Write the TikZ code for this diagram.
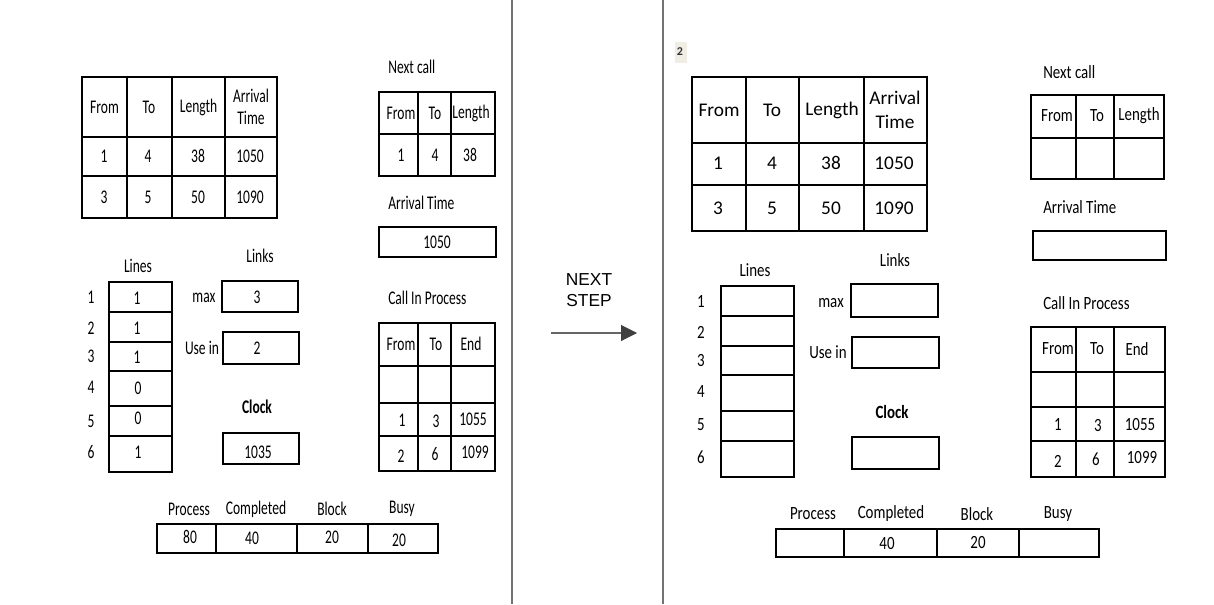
\documentclass[tikz,border=0pt]{standalone}
\usepackage{fontspec}
\setmainfont{Carlito}
\newfontfamily\lfont[FakeStretch=0.7]{Carlito}
\newfontfamily\rfont[FakeStretch=0.8]{Carlito}
\newfontfamily\arialfont{Liberation Sans}
\usetikzlibrary{arrows.meta}
\definecolor{beige}{RGB}{240,238,228}
\newcommand\mygrid[7]{%
  \draw[#1] (#2,#3) rectangle (#4,#5);
  \foreach \xx in {#6} {\draw[#1] (\xx,#3) -- (\xx,#5);}
  \foreach \yy in {#7} {\draw[#1] (#2,\yy) -- (#4,\yy);}
}
\begin{document}
\begin{tikzpicture}[x=0.75pt,y=-0.75pt,
  lt/.style={font=\lfont\fontsize{14.5}{17}\selectfont, inner sep=0pt, align=center},
  ltb/.style={font=\lfont\bfseries\fontsize{14.5}{17}\selectfont, inner sep=0pt, align=center},
  rt/.style={font=\fontsize{14.5}{18}\selectfont, inner sep=0pt, align=center},
  rs/.style={font=\rfont\fontsize{14}{17}\selectfont, inner sep=0pt, align=center},
  rsb/.style={font=\rfont\bfseries\fontsize{14}{17}\selectfont, inner sep=0pt, align=center},
  tb/.style={line width=1.8pt, line cap=rect},
  bx/.style={line width=1.3pt, line cap=rect},
  sep/.style={draw=black!55, line width=1.1pt},
  arr/.style={draw=black!60, line width=0.8pt, -{Triangle[length=12pt,width=12pt,fill=black!75,color=black!75]}}]
\useasboundingbox (0,0) rectangle (1214,604);
\fill[white] (0,0) rectangle (1214,604);

% separators
\draw[sep] (512,0) -- (512,604);
\draw[sep] (663,0) -- (663,604);

% middle
\node[font=\arialfont\fontsize{13}{16}\selectfont, align=center, inner sep=0pt] (nextstep) at (589,290) {NEXT\\STEP};
\coordinate (a1) at (551,333);
\coordinate (a2) at (637,333);
\draw[arr] (a1) -- (a2);

% ================= LEFT PANEL =================
\mygrid{tb}{82}{77}{277}{218}{127,172,225}{137,176}
\node[lt] (lh1) at (104.5,107) {From};
\node[lt] (lh2) at (149,107) {To};
\node[lt] (lh3) at (198.5,107) {Length};
\node[lt] (lh4) at (251,107) {Arrival\\Time};
\node[lt] (lr11) at (104,156) {1};
\node[lt] (lr12) at (148,156) {4};
\node[lt] (lr13) at (198,156) {38};
\node[lt] (lr14) at (250,156) {1050};
\node[lt] (lr21) at (104,197) {3};
\node[lt] (lr22) at (148,197) {5};
\node[lt] (lr23) at (198,197) {50};
\node[lt] (lr24) at (250,197) {1090};

% next call
\node[lt, anchor=west] (lnc) at (388,67) {Next call};
\mygrid{bx}{379}{92}{495}{176}{418,451}{134}
\node[lt] (lnc1) at (401,113) {From};
\node[lt] (lnc2) at (435,113) {To};
\node[lt] (lnc3) at (471,113) {Length};
\node[lt] (lnc4) at (401,155) {1};
\node[lt] (lnc5) at (435,155) {4};
\node[lt] (lnc6) at (470,155) {38};

% arrival time
\node[lt, anchor=west] (lat) at (388,203) {Arrival Time};
\draw[bx] (379,227) rectangle (496,257);
\node[lt] (latv) at (437,242) {1050};

% lines
\node[lt] (llines) at (138,266) {Lines};
\draw[bx] (109,282) rectangle (172,472);
\foreach \yy in {312,342,371,406,436} {\draw[bx] (109,\yy) -- (172,\yy);}
\node[lt] (ln1) at (91,297) {1};
\node[lt] (ln2) at (91,328) {2};
\node[lt] (ln3) at (91,356) {3};
\node[lt] (ln4) at (91,387) {4};
\node[lt] (ln5) at (91,421) {5};
\node[lt] (ln6) at (91,452) {6};
\node[lt] (lv1) at (137,298) {1};
\node[lt] (lv2) at (137,328) {1};
\node[lt] (lv3) at (137,357) {1};
\node[lt] (lv4) at (138,388) {0};
\node[lt] (lv5) at (138,418) {0};
\node[lt] (lv6) at (138,452) {1};

% links
\node[lt] (llinks) at (260,256) {Links};
\node[lt] (lmax) at (204,298) {max};
\draw[bx] (222,281) rectangle (298,312);
\node[lt] (lmaxv) at (257,297) {3};
\node[lt] (luse) at (202,348) {Use in};
\draw[bx] (223,332) rectangle (299,364);
\node[lt] (lusev) at (257,348) {2};
\node[ltb] (lclock) at (257,407) {Clock};
\draw[bx] (223,433) rectangle (299,464);
\node[lt] (lclockv) at (258,452) {1035};

% call in process
\node[lt, anchor=west] (lcip) at (388,298) {Call In Process};
\mygrid{bx}{379}{323}{495}{471}{418,451}{366,403,436}
\node[lt] (lc1) at (401,344) {From};
\node[lt] (lc2) at (436,344) {To};
\node[lt] (lc3) at (471,344) {End};
\node[lt] (lc4) at (402,420) {1};
\node[lt] (lc5) at (436,421) {3};
\node[lt] (lc6) at (473,419) {1055};
\node[lt] (lc7) at (401,456) {2};
\node[lt] (lc8) at (435,454) {6};
\node[lt] (lc9) at (475,452) {1099};

% bottom
\node[lt] (lb1) at (189,509) {Process};
\node[lt] (lb2) at (256,509) {Completed};
\node[lt] (lb3) at (332,509) {Block};
\node[lt] (lb4) at (402,509) {Busy};
\draw[bx] (157,524) rectangle (438,553);
\foreach \xx in {216,297,368} {\draw[bx] (\xx,524) -- (\xx,553);}
\node[lt] (lbv1) at (190,537) {80};
\node[lt] (lbv2) at (252,538) {40};
\node[lt] (lbv3) at (332,537) {20};
\node[lt] (lbv4) at (399,540) {20};

% ================= RIGHT PANEL =================
\fill[beige] (675,42) rectangle (687,63);
\node[font=\bfseries\fontsize{9}{10}\selectfont, text=black!80, inner sep=0pt] (rtwo) at (680,52) {2};

\mygrid{tb}{692}{77}{927}{231}{746,799,864}{143,185}
\node[rt] (rh1) at (719,110) {From};
\node[rt] (rh2) at (772,110) {To};
\node[rt] (rh3) at (832,110) {Length};
\node[rt] (rh4) at (895,110) {Arrival\\Time};
\node[rt] (rr11) at (718,163) {1};
\node[rt] (rr12) at (772,163) {4};
\node[rt] (rr13) at (831,163) {38};
\node[rt] (rr14) at (894,163) {1050};
\node[rt] (rr21) at (718,208) {3};
\node[rt] (rr22) at (772,208) {5};
\node[rt] (rr23) at (831,208) {50};
\node[rt] (rr24) at (894,208) {1090};

\node[rs, anchor=west] (rnc) at (1043,72) {Next call};
\mygrid{bx}{1031}{95}{1164}{179}{1076,1114}{138}
\node[rs] (rnc1) at (1057,116) {From};
\node[rs] (rnc2) at (1097,116) {To};
\node[rs] (rnc3) at (1139,116) {Length};

\node[rs, anchor=west] (rat) at (1043,207) {Arrival Time};
\draw[bx] (1033,231) rectangle (1166,260);

\node[rs] (rlines) at (755,270) {Lines};
\draw[bx] (721,286) rectangle (794,477);
\foreach \yy in {316,346,375,411,441} {\draw[bx] (721,\yy) -- (794,\yy);}
\node[rs] (rn1) at (701,301) {1};
\node[rs] (rn2) at (701,332) {2};
\node[rs] (rn3) at (701,360) {3};
\node[rs] (rn4) at (701,392) {4};
\node[rs] (rn5) at (701,425) {5};
\node[rs] (rn6) at (701,457) {6};

\node[rs] (rlinks) at (895,260) {Links};
\node[rs] (rmax) at (831,303) {max};
\draw[bx] (851,284) rectangle (938,317);
\node[rs] (ruse) at (828,352) {Use in};
\draw[bx] (852,337) rectangle (939,368);
\node[rsb] (rclock) at (892,412) {Clock};
\draw[bx] (852,437) rectangle (939,469);

\node[rs, anchor=west] (rcip) at (1043,303) {Call In Process};
\mygrid{bx}{1031}{327}{1165}{477}{1076,1114}{372,407,441}
\node[rs] (rc1) at (1058,349) {From};
\node[rs] (rc2) at (1097,349) {To};
\node[rs] (rc3) at (1137,349) {End};
\node[rs] (rc4) at (1058,424) {1};
\node[rs] (rc5) at (1098,425) {3};
\node[rs] (rc6) at (1140,424) {1055};
\node[rs] (rc7) at (1058,461) {2};
\node[rs] (rc8) at (1096,459) {6};
\node[rs] (rc9) at (1142,457) {1099};

\node[rs] (rb1) at (813,514) {Process};
\node[rs] (rb2) at (891,514) {Completed};
\node[rs] (rb3) at (977,514) {Block};
\node[rs] (rb4) at (1058,514) {Busy};
\draw[bx] (776,529) rectangle (1099,557);
\foreach \xx in {844,937,1019} {\draw[bx] (\xx,529) -- (\xx,557);}
\node[rs] (rbv2) at (887,543) {40};
\node[rs] (rbv3) at (978,542) {20};
\end{tikzpicture}
\end{document}
